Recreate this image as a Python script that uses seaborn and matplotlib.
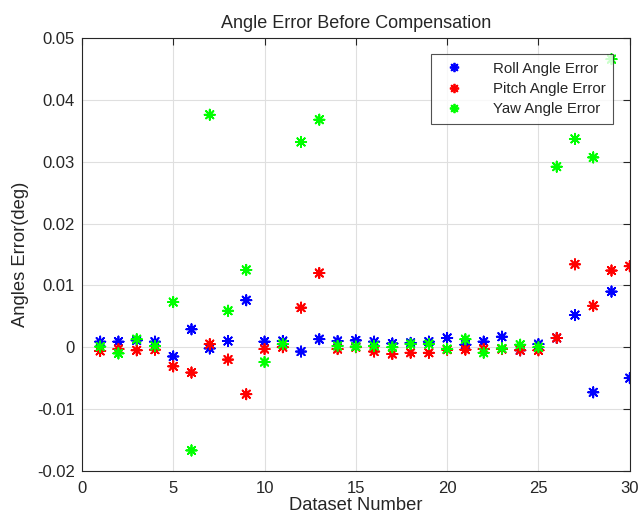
import numpy as np
import pandas as pd
import matplotlib
matplotlib.use('Agg')
import matplotlib.pyplot as plt
import seaborn as sns

# numero do conjunto de dados
dataset = list(range(1, 31))

# erros de angulo (graus)
roll = [0.0009, 0.0009, 0.0011, 0.0009, -0.0015, 0.0029, -0.0002, 0.0010, 0.0076, 0.0009,
        0.0010, -0.0007, 0.0013, 0.0010, 0.0011, 0.0009, 0.0006, 0.0007, 0.0009, 0.0015,
        0.0004, 0.0009, 0.0017, -0.0005, 0.0005, 0.0015, 0.0052, -0.0073, 0.0090, -0.0050]
pitch = [-0.0006, -0.0003, -0.0005, -0.0004, -0.0031, -0.0041, 0.0005, -0.0020, -0.0076, -0.0003,
         0.0000, 0.0064, 0.0120, -0.0003, 0.0000, -0.0007, -0.0011, -0.0009, -0.0009, -0.0004,
         -0.0004, -0.0003, -0.0003, -0.0005, -0.0005, 0.0015, 0.0134, 0.0067, 0.0124, 0.0131]
yaw = [0.0001, -0.0010, 0.0013, 0.0002, 0.0073, -0.0167, 0.0376, 0.0059, 0.0125, -0.0024,
       0.0005, 0.0332, 0.0368, 0.0002, 0.0001, 0.0002, 0.0000, 0.0005, 0.0005, -0.0003,
       0.0013, -0.0009, -0.0002, 0.0004, 0.0000, 0.0292, 0.0337, 0.0307, 0.0466]

series = ['Roll Angle Error', 'Pitch Angle Error', 'Yaw Angle Error']
colors = ['#0000ff', '#ff0000', '#00ff00']

df = pd.DataFrame({
    'Dataset': dataset * 2 + dataset[:len(yaw)],
    'Erro': roll + pitch + yaw,
    'Serie': [series[0]] * 30 + [series[1]] * 30 + [series[2]] * len(yaw),
})

sns.set_style('white')
plt.rcParams['font.family'] = ['Liberation Sans', 'DejaVu Sans']

fig = plt.figure(figsize=(6.4, 5.22), dpi=100)
ax = fig.add_axes([0.128, 0.098, 0.856, 0.829])

sns.scatterplot(data=df, x='Dataset', y='Erro', hue='Serie', hue_order=series,
                palette=colors, marker=(8, 2, 0), s=55, linewidth=1.3,
                ax=ax, legend=True)

ax.set_xlim(0, 30)
ax.set_ylim(-0.02, 0.05)
ax.set_xticks([0, 5, 10, 15, 20, 25, 30])
ax.set_yticks([-0.02, -0.01, 0, 0.01, 0.02, 0.03, 0.04, 0.05])
ax.set_yticklabels(['-0.02', '-0.01', '0', '0.01', '0.02', '0.03', '0.04', '0.05'])
ax.grid(True, color='#dfdfdf', linewidth=0.8)
ax.set_axisbelow(True)
ax.tick_params(direction='in', top=True, right=True, length=5, labelsize=12, colors='#262626')
ax.tick_params(axis='x', pad=7)
ax.tick_params(axis='y', pad=5)
for s in ax.spines.values():
    s.set_color('#262626')
    s.set_linewidth(0.8)

ax.set_title('Angle Error Before Compensation', fontsize=13, pad=7)
ax.set_xlabel('Dataset Number', fontsize=13.2, labelpad=1)
ax.set_ylabel('Angles Error(deg)', fontsize=13.2, labelpad=6)

leg = ax.legend(loc='upper right', bbox_to_anchor=(0.969, 0.963), borderaxespad=0,
                fontsize=10.8, frameon=True, fancybox=False, edgecolor='#262626',
                handletextpad=1.6, borderpad=0.5, labelspacing=0.42, markerscale=0.9)
leg.get_frame().set_linewidth(0.8)

fig.savefig('out.png', dpi=100)
